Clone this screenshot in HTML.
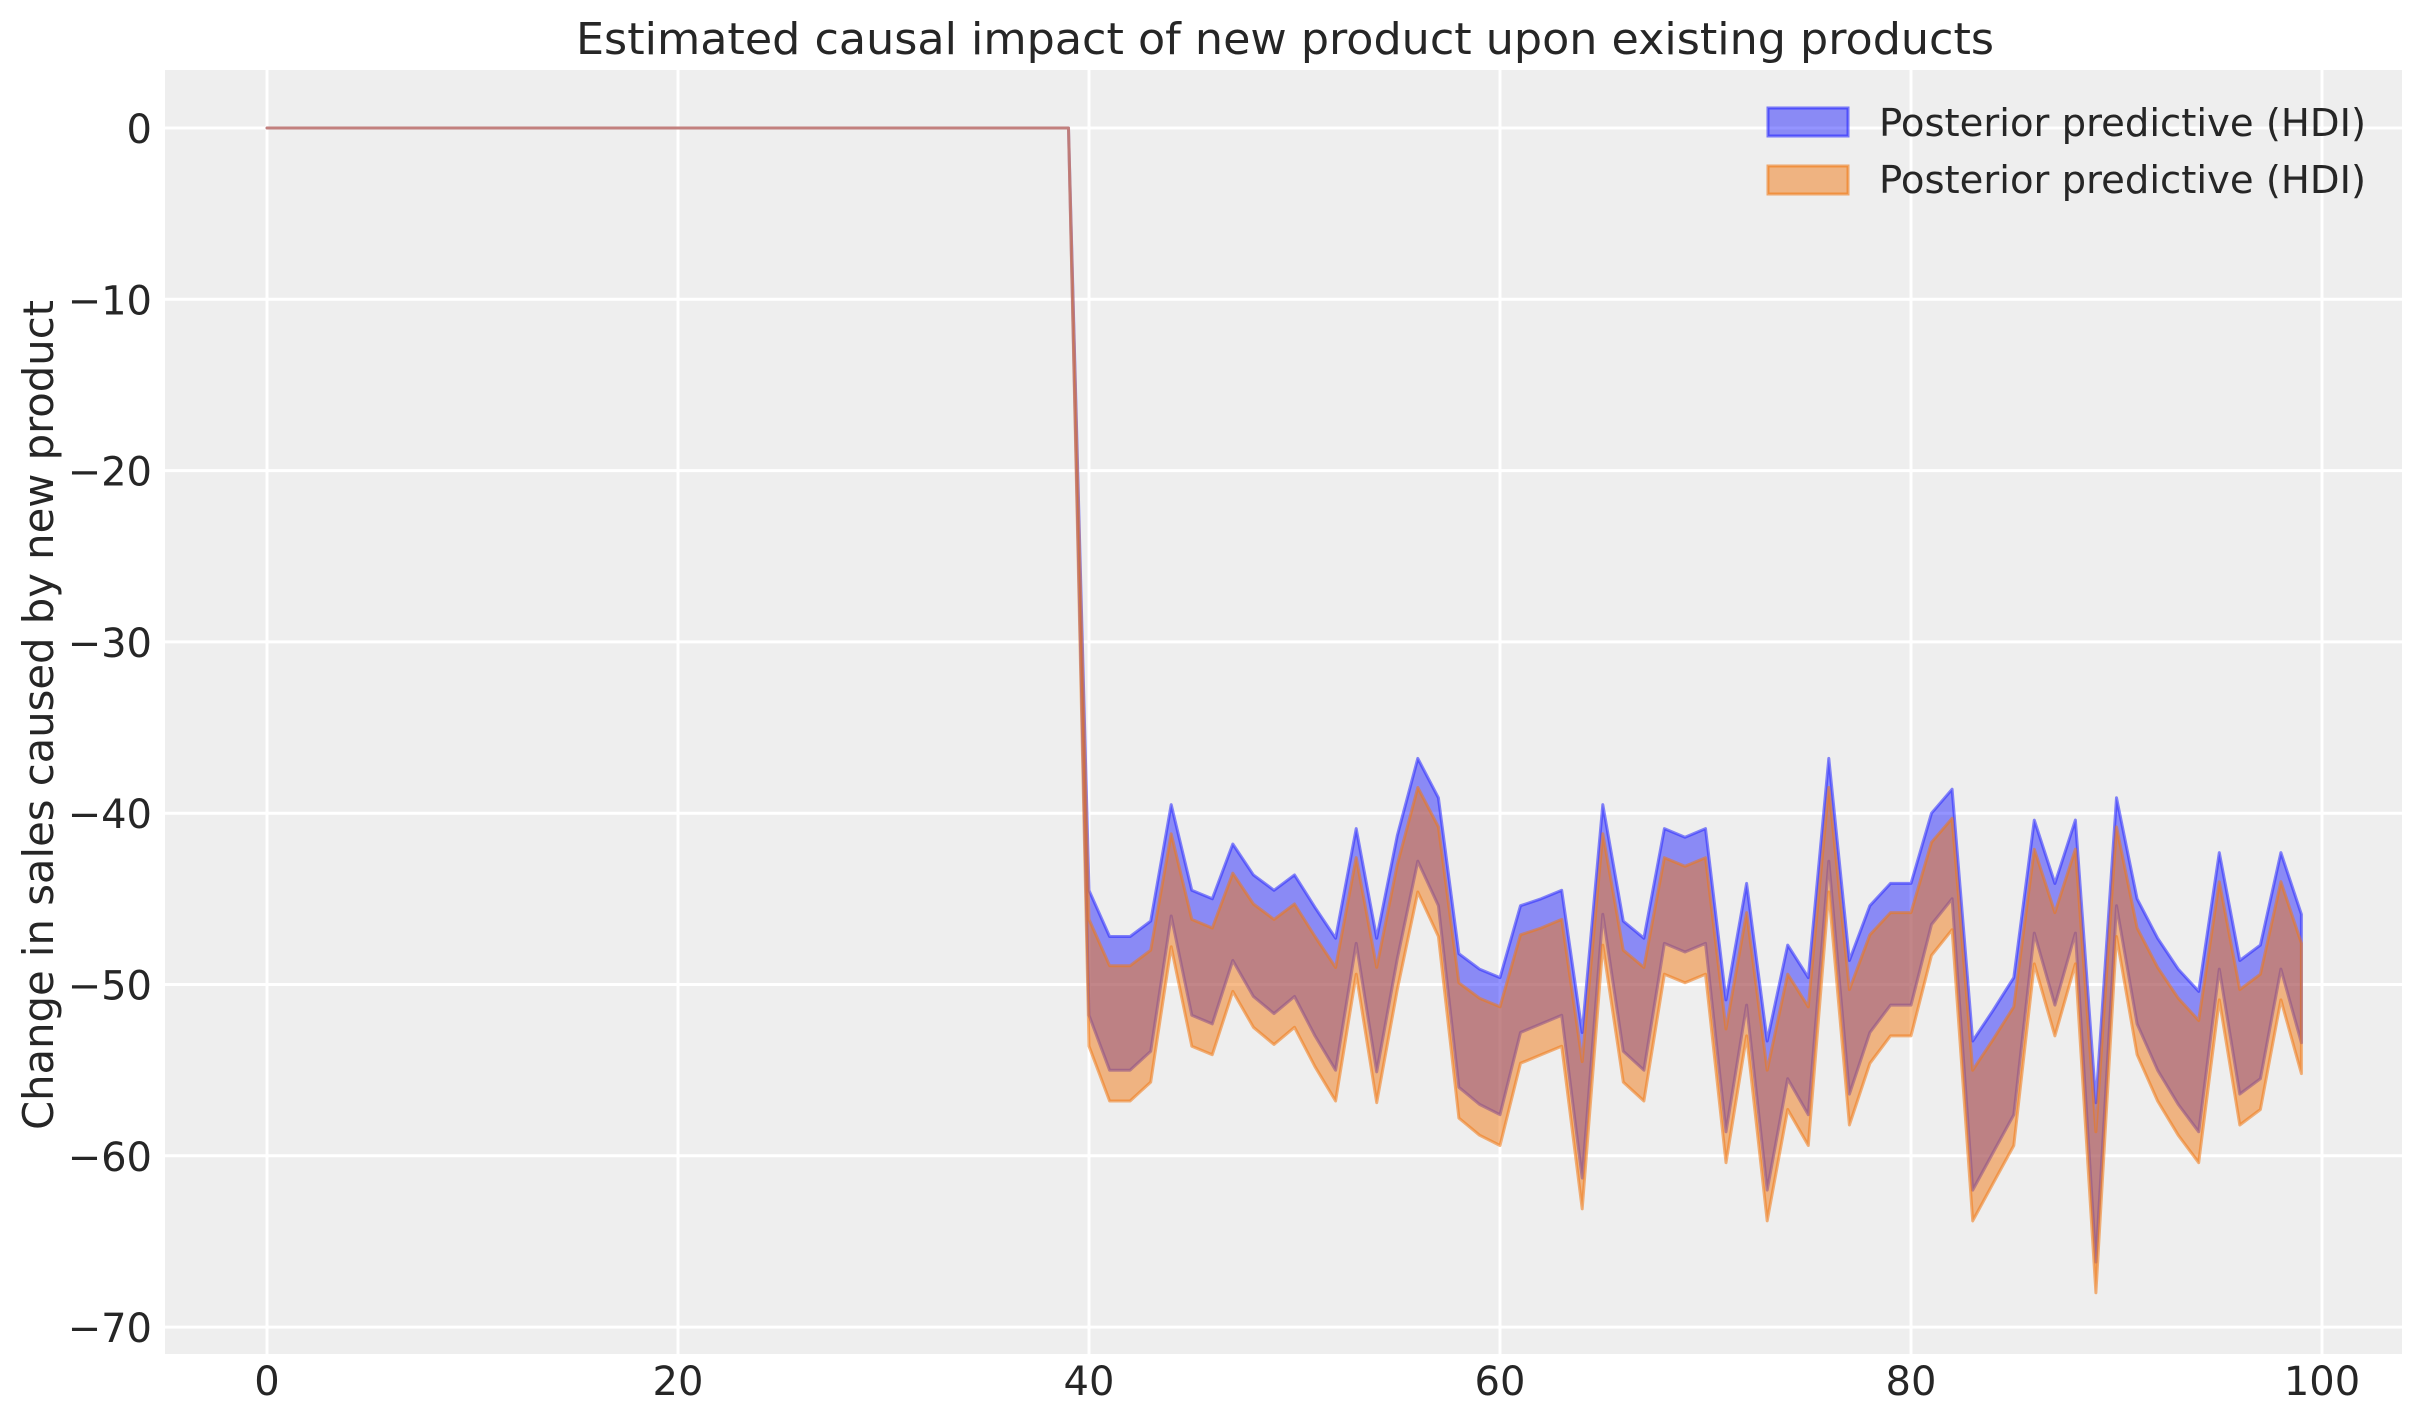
<!DOCTYPE html>
<html><head><meta charset="utf-8"><style>
html,body{margin:0;padding:0;background:#fff;}
svg{display:block;font-family:"DejaVu Sans","Liberation Sans",sans-serif;}
</style></head><body>
<svg id="s" width="2423" height="1423" viewBox="0 0 2423 1423" xmlns="http://www.w3.org/2000/svg">
<rect x="165" y="70" width="2237" height="1284" fill="#eeeeee"/>
<g id="grid" stroke="#ffffff" stroke-width="3"></g>
<g id="data"></g>
<g id="ticks" fill="#262626" font-size="40"></g>
<text x="1285" y="54" font-size="44" text-anchor="middle" fill="#262626" textLength="1418" lengthAdjust="spacingAndGlyphs">Estimated causal impact of new product upon existing products</text>
<text transform="translate(53,715) rotate(-90)" font-size="42" text-anchor="middle" fill="#262626" textLength="830" lengthAdjust="spacingAndGlyphs">Change in sales caused by new product</text>
<rect x="1768" y="108" width="80" height="28" fill="rgba(0,0,255,0.42)" stroke="rgba(40,40,255,0.6)" stroke-width="3"/>
<rect x="1768" y="166" width="80" height="28" fill="rgba(240,120,20,0.5)" stroke="rgba(240,120,20,0.6)" stroke-width="3"/>
<text x="1879" y="136" font-size="38" fill="#262626" textLength="487" lengthAdjust="spacingAndGlyphs">Posterior predictive (HDI)</text>
<text x="1879" y="193" font-size="38" fill="#262626" textLength="487" lengthAdjust="spacingAndGlyphs">Posterior predictive (HDI)</text>
</svg>
<script>
var NS="http://www.w3.org/2000/svg";
function X(v){return 267+v*20.55;}
function Y(v){return 128-v*17.13;}
function el(t,a,p){var e=document.createElementNS(NS,t);for(var k in a)e.setAttribute(k,a[k]);p.appendChild(e);return e;}
var g=document.getElementById('grid'),tk=document.getElementById('ticks'),d=document.getElementById('data');
for(var v=0;v<=100;v+=20){el('line',{x1:X(v),x2:X(v),y1:70,y2:1354},g);var t=el('text',{x:X(v),y:1395,'text-anchor':'middle'},tk);t.textContent=v;}
for(var v=0;v>=-70;v-=10){el('line',{x1:165,x2:2402,y1:Y(v),y2:Y(v)},g);var t=el('text',{x:152,y:Y(v)+15,'text-anchor':'end'},tk);t.textContent=(v<0?'\u2212'+(-v):v);}
var up=[-44.5,-47.2,-47.2,-46.3,-39.5,-44.5,-45,-41.8,-43.6,-44.5,-43.6,-45.5,-47.3,-40.9,-47.3,-41.3,-36.8,-39.1,-48.2,-49.1,-49.6,-45.4,-45,-44.5,-52.8,-39.5,-46.3,-47.3,-40.9,-41.4,-40.9,-50.9,-44.1,-53.3,-47.7,-49.6,-36.8,-48.6,-45.4,-44.1,-44.1,-40,-38.6,-53.3,-51.5,-49.6,-40.4,-44.1,-40.4,-56.9,-39.1,-45,-47.3,-49.1,-50.4,-42.3,-48.6,-47.7,-42.3,-45.9];
var lo=[-51.8,-55,-55,-53.9,-46,-51.8,-52.3,-48.6,-50.7,-51.7,-50.7,-53,-55,-47.6,-55.1,-48.5,-42.8,-45.4,-56,-57,-57.6,-52.8,-52.3,-51.8,-61.3,-45.9,-53.9,-55,-47.6,-48.1,-47.6,-58.6,-51.2,-62,-55.5,-57.6,-42.8,-56.4,-52.8,-51.2,-51.2,-46.5,-45,-62,-59.8,-57.6,-47,-51.2,-47,-66.2,-45.4,-52.3,-55,-57,-58.6,-49.1,-56.4,-55.5,-49.1,-53.4];
function band(off1,off2,fill,stroke){
 var top=[],bot=[];
 for(var i=0;i<40;i++){top.push([i,0]);}
 for(var i=0;i<60;i++){top.push([40+i,up[i]+off1]);}
 for(var i=59;i>=0;i--){bot.push([40+i,lo[i]+off2]);}
 for(var i=39;i>=0;i--){bot.push([i,0]);}
 var pts=top.concat(bot).map(function(p){return X(p[0]).toFixed(1)+','+Y(p[1]).toFixed(1);}).join(' ');
 el('polygon',{points:pts,fill:fill,stroke:stroke,'stroke-width':3,'stroke-linejoin':'round'},d);
}
band(0,0,'rgba(0,0,255,0.42)','rgba(40,40,255,0.55)');
band(-1.7,-1.8,'rgba(240,120,20,0.5)','rgba(240,120,20,0.55)');
</script>
</body></html>
